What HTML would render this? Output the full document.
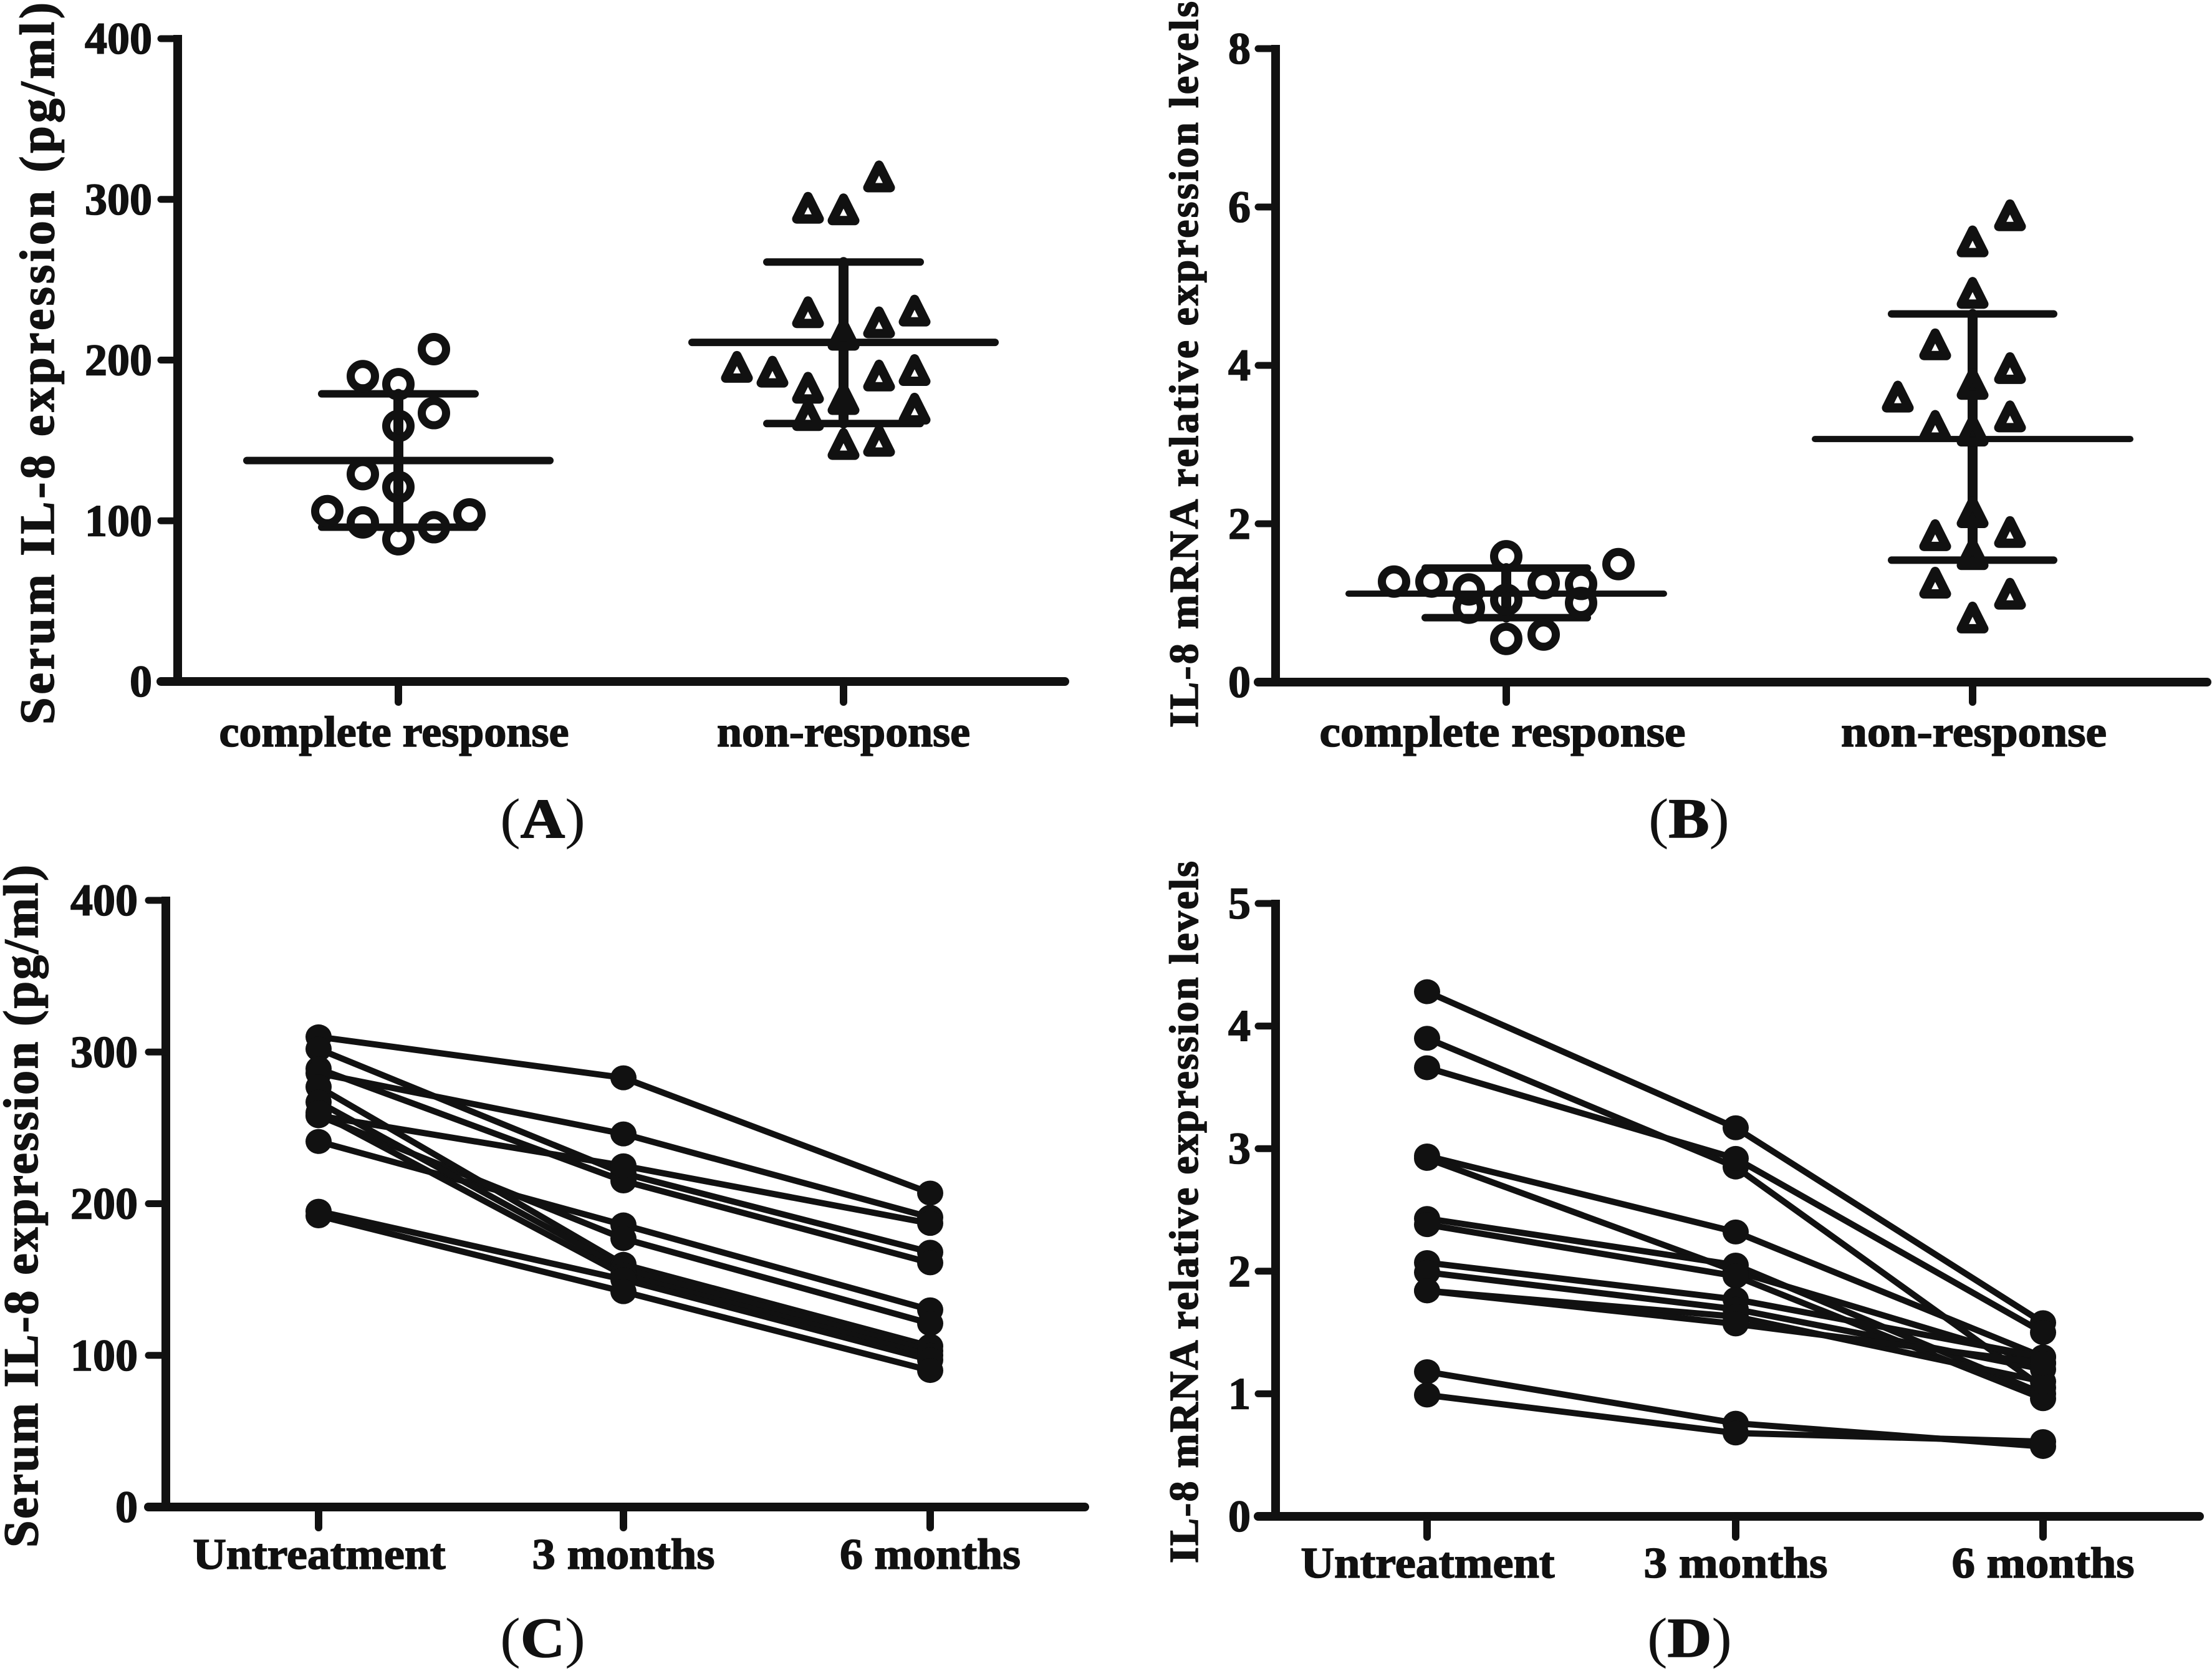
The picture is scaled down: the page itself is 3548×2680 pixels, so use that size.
<!DOCTYPE html>
<html lang="en">
<head>
<meta charset="utf-8">
<title>IL-8 expression charts</title>
<style>
html,body{margin:0;padding:0;background:#fff;width:3548px;height:2680px;overflow:hidden}
svg{display:block}
text{font-family:"Liberation Serif",serif;fill:#111;font-weight:bold;stroke:#111;stroke-width:1.6px}
.panel-letter{font-size:90px}
.paren{font-weight:normal;stroke-width:0}
</style>
</head>
<body>
<svg id="figure" xmlns="http://www.w3.org/2000/svg" width="3548" height="2680" viewBox="0 0 3548 2680">
<rect x="0" y="0" width="3548" height="2680" fill="#fff"/>
<text transform="translate(86,1162) rotate(-90)" font-size="78" textLength="1158" lengthAdjust="spacing">Serum IL-8 expression (pg/ml)</text>
<text transform="translate(1921,1167) rotate(-90)" font-size="66" textLength="1165" lengthAdjust="spacing">IL-8 mRNA relative expression levels</text>
<text transform="translate(60,2482) rotate(-90)" font-size="78" textLength="1095" lengthAdjust="spacing">Serum IL-8 expression (pg/ml)</text>
<text transform="translate(1921,2507) rotate(-90)" font-size="66" textLength="1126" lengthAdjust="spacing">IL-8 mRNA relative expression levels</text>
<text class="panel-letter" x="802" y="1343" textLength="137" lengthAdjust="spacingAndGlyphs"><tspan class="paren">(</tspan>A<tspan class="paren">)</tspan></text>
<text class="panel-letter" x="2644" y="1343" textLength="130" lengthAdjust="spacingAndGlyphs"><tspan class="paren">(</tspan>B<tspan class="paren">)</tspan></text>
<text class="panel-letter" x="802" y="2657" textLength="137" lengthAdjust="spacingAndGlyphs"><tspan class="paren">(</tspan>C<tspan class="paren">)</tspan></text>
<text class="panel-letter" x="2642" y="2657" textLength="136" lengthAdjust="spacingAndGlyphs"><tspan class="paren">(</tspan>D<tspan class="paren">)</tspan></text>
</svg>
<script>
// ---- Panel A data ----
const aCategories = ['complete response', 'non-response'];
const aTicks = [0, 100, 200, 300, 400];
const aCompleteValues = [206.8, 190, 185, 167, 159, 129, 121, 106, 104, 99, 96, 88.5];
const aCompleteSlots = [1, -1, 0, 1, 0, -1, 0, -2, 2, -1, 1, 0];
const aNonValues = [313.5, 294, 293, 229, 230, 222.7, 215, 195, 192, 189.6, 193, 182, 175, 165, 169, 149, 147];
const aNonSlots = [1, -1, 0, -1, 2, 1, 0, -3, -2, 1, 2, -1, 0, -1, 2, 1, 0];
const aMeans = [137.5, 211];
const aSdUpper = [179, 261];
const aSdLower = [96, 160.5];

// ---- Panel B data ----
const bCategories = ['complete response', 'non-response'];
const bTicks = [0, 2, 4, 6, 8];
const bCompleteValues = [1.27, 1.27, 1.17, 0.94, 1.59, 1.04, 0.545, 1.25, 0.6, 1.24, 1.0, 1.49];
const bCompleteSlots = [-3, -2, -1, -1, 0, 0, 0, 1, 1, 2, 2, 3];
const bNonValues = [5.88, 5.55, 4.9, 4.25, 3.95, 3.75, 3.59, 3.22, 3.34, 3.16, 2.13, 1.84, 1.88, 1.6, 1.24, 1.1, 0.8];
const bNonSlots = [1, 0, 0, -1, 1, 0, -2, -1, 1, 0, 0, -1, 1, 0, -1, 1, 0];
const bMeans = [1.117, 3.07];
const bSdUpper = [1.44, 4.65];
const bSdLower = [0.814, 1.54];

// ---- Panel C data ----
const cCategories = ['Untreatment', '3 months', '6 months'];
const cTicks = [0, 100, 200, 300, 400];
const cUntreated = [310, 302, 289, 286, 258, 241, 258, 277, 267, 260, 195, 192];
const cThreeMonths = [283, 220, 215, 246, 225, 186, 177, 160, 157, 153, 150, 142];
const cSixMonths = [207, 168, 161, 191, 187, 130, 121, 106, 103, 100, 97, 90];

// ---- Panel D data ----
const dCategories = ['Untreatment', '3 months', '6 months'];
const dTicks = [0, 1, 2, 3, 4, 5];
const dUntreated = [4.28, 3.9, 3.66, 2.94, 2.92, 2.43, 2.38, 2.07, 1.99, 1.84, 1.84, 1.18, 0.99];
const dThreeMonths = [3.17, 2.85, 2.92, 2.32, 2.0, 2.05, 1.96, 1.77, 1.69, 1.63, 1.57, 0.76, 0.68];
const dSixMonths = [1.58, 1.05, 1.5, 1.3, 1.25, 1.0, 0.96, 1.3, 1.2, 1.1, 1.25, 0.57, 0.61];

const NS = 'http://www.w3.org/2000/svg';
const fig = document.getElementById('figure');
const INK = '#111';

function make(tag, attrs, parent) {
  const el = document.createElementNS(NS, tag);
  for (const k in attrs) el.setAttribute(k, attrs[k]);
  (parent || fig).appendChild(el);
  return el;
}

function scaleY(p, v) {
  return p.y0 + (p.yTop - p.y0) * v / p.max;
}

function drawAxes(p, ticks, cats) {
  const g = make('g', {});
  
  
  const yAxis = make('line', {x1: p.axisX, x2: p.axisX, y1: p.yTop - 6, y2: p.y0 + 7, stroke: INK, 'stroke-width': 14}, g);
  
  
  const xAxis = make('line', {x1: p.tickLeft, x2: p.axisEnd, y1: p.y0, y2: p.y0, stroke: INK, 'stroke-width': 14, 'stroke-linecap': 'round'}, g);
  
  
  ticks.forEach(function (t) {
    const y = scaleY(p, t);
    const tick = make('line', {x1: p.tickLeft, x2: p.axisX, y1: y, y2: y, stroke: INK, 'stroke-width': 11, 'stroke-linecap': 'round'}, g);
    
    
    const label = make('text', {x: p.labelRight, y: y + 24, 'text-anchor': 'end', 'font-size': 72}, g);
    
    
    label.textContent = String(t);
  });
  cats.forEach(function (c, i) {
    const x = p.catX[i];
    const tick = make('line', {x1: x, x2: x, y1: p.y0, y2: p.tickBottom, stroke: INK, 'stroke-width': 12, 'stroke-linecap': 'round'}, g);
    
    
    const label = make('text', {x: x + p.catLabelShift[i], y: p.catBaseline, 'text-anchor': 'middle', 'font-size': 70, textLength: p.catLabelWidth[i], lengthAdjust: 'spacingAndGlyphs'}, g);
    
    
    label.textContent = c;
  });
}

function drawSummary(p, i, mean, hi, lo) {
  const x = p.catX[i];
  const g = make('g', {stroke: INK, 'stroke-linecap': 'round'});
  
  
  const bar = make('line', {x1: x, x2: x, y1: scaleY(p, hi), y2: scaleY(p, lo), 'stroke-width': 16}, g);
  
  
  const meanLine = make('line', {x1: x - p.meanHalf, x2: x + p.meanHalf, y1: scaleY(p, mean), y2: scaleY(p, mean), 'stroke-width': p.meanWidth}, g);
  
  
  [hi, lo].forEach(function (v) {
    const cap = make('line', {x1: x - p.capHalf, x2: x + p.capHalf, y1: scaleY(p, v), y2: scaleY(p, v), 'stroke-width': 12}, g);
    
    
  });
}

function drawCircles(p, i, values, slots) {
  values.forEach(function (v, k) {
    const c = make('circle', {cx: p.catX[i] + slots[k] * p.slot, cy: scaleY(p, v), r: 19.5, fill: 'none', stroke: INK, 'stroke-width': 13});
    
    
  });
}

function drawTriangles(p, i, values, slots) {
  values.forEach(function (v, k) {
    const x = p.catX[i] + slots[k] * p.slot;
    const y = scaleY(p, v);
    const d = [[0, -20], [18, 16], [-18, 16]].map(function (q) { return (x + q[0]) + ',' + (y + q[1]); }).join(' ');
    const t = make('polygon', {points: d, fill: 'none', stroke: INK, 'stroke-width': 15, 'stroke-linejoin': 'round'});
    
    
  });
}

function drawPaired(p, a, b, c) {
  a.forEach(function (_, k) {
    const vals = [a[k], b[k], c[k]];
    const pts = vals.map(function (v, i) { return p.catX[i] + ',' + scaleY(p, v); }).join(' ');
    const line = make('polyline', {points: pts, fill: 'none', stroke: INK, 'stroke-width': 10, 'stroke-linejoin': 'round'});
    
    
  });
  a.forEach(function (_, k) {
    [a[k], b[k], c[k]].forEach(function (v, i) {
      const dot = make('ellipse', {cx: p.catX[i], cy: scaleY(p, v), rx: 21, ry: 20, fill: INK});
      
      
    });
  });
}

const panelA = {id: 'a', axisX: 285, y0: 1093, yTop: 62, max: 400, axisEnd: 1708, tickLeft: 258, labelRight: 244, tickBottom: 1126, catX: [639, 1353], catBaseline: 1197, catLabelShift: [-7, 0], catLabelWidth: [561, 406], slot: 57, meanHalf: 243, meanWidth: 12, capHalf: 123};
const panelB = {id: 'b', axisX: 2046, y0: 1094, yTop: 78, max: 8, axisEnd: 3540, tickLeft: 2018, labelRight: 2006, tickBottom: 1126, catX: [2416, 3164], catBaseline: 1197, catLabelShift: [-6, 2], catLabelWidth: [587, 426], slot: 60, meanHalf: 253, meanWidth: 10, capHalf: 130};
const panelC = {id: 'c', axisX: 266, y0: 2417, yTop: 1444, max: 400, axisEnd: 1740, tickLeft: 238, labelRight: 221, tickBottom: 2450, catX: [511, 1000, 1492], catBaseline: 2516, catLabelShift: [1, 0, 0], catLabelWidth: [405, 293, 290]};
const panelD = {id: 'd', axisX: 2046, y0: 2432, yTop: 1449, max: 5, axisEnd: 3528, tickLeft: 2018, labelRight: 2006, tickBottom: 2465, catX: [2289, 2784, 3277], catBaseline: 2530, catLabelShift: [1, 0, 0], catLabelWidth: [407, 295, 293]};

drawAxes(panelA, aTicks, aCategories);
drawSummary(panelA, 0, aMeans[0], aSdUpper[0], aSdLower[0]);
drawSummary(panelA, 1, aMeans[1], aSdUpper[1], aSdLower[1]);
drawCircles(panelA, 0, aCompleteValues, aCompleteSlots);
drawTriangles(panelA, 1, aNonValues, aNonSlots);

drawAxes(panelB, bTicks, bCategories);
drawSummary(panelB, 0, bMeans[0], bSdUpper[0], bSdLower[0]);
drawSummary(panelB, 1, bMeans[1], bSdUpper[1], bSdLower[1]);
drawCircles(panelB, 0, bCompleteValues, bCompleteSlots);
drawTriangles(panelB, 1, bNonValues, bNonSlots);

drawAxes(panelC, cTicks, cCategories);
drawPaired(panelC, cUntreated, cThreeMonths, cSixMonths);

drawAxes(panelD, dTicks, dCategories);
drawPaired(panelD, dUntreated, dThreeMonths, dSixMonths);
</script>
</body>
</html>
